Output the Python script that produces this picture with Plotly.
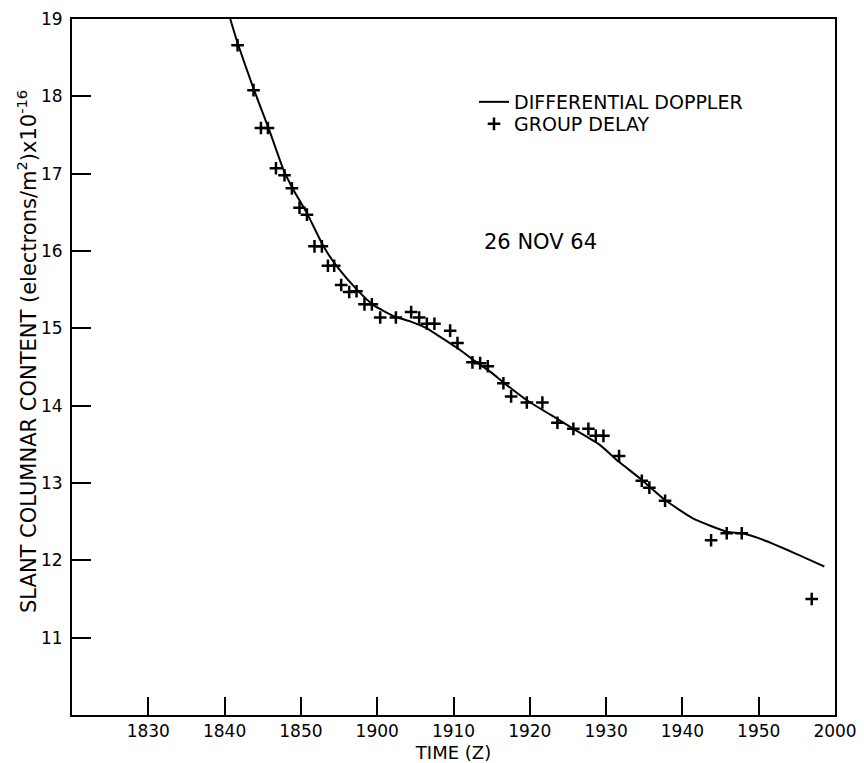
import plotly.graph_objects as go

# Time axis in minutes after 18:00 Z
tick_minutes = [30, 40, 50, 60, 70, 80, 90, 100, 110, 120]
tick_labels = ["1830", "1840", "1850", "1900", "1910", "1920", "1930", "1940", "1950", "2000"]
y_ticks = [11, 12, 13, 14, 15, 16, 17, 18, 19]

# Differential Doppler (continuous curve)
doppler_t = [40.74, 41.70, 43.79, 45.76, 47.72, 49.03, 50.79, 52.96, 54.72, 57.34,
             59.51, 62.36, 64.32, 66.51, 68.25, 70.87, 72.61, 74.80, 76.54, 79.61,
             83.75, 85.71, 89.21, 91.61, 94.68, 97.73, 101.44, 105.81, 107.78, 110.17,
             114.54, 118.60]
doppler_v = [19.00, 18.69, 18.10, 17.59, 17.05, 16.79, 16.49, 16.06, 15.80, 15.50,
             15.30, 15.15, 15.09, 15.00, 14.89, 14.72, 14.59, 14.44, 14.30, 14.07,
             13.82, 13.70, 13.49, 13.28, 13.04, 12.78, 12.54, 12.37, 12.35, 12.28,
             12.10, 11.92]

# Group delay measurements
group_t = [41.70, 43.79, 44.76, 45.68, 46.73, 47.85, 48.82, 49.82, 50.79, 51.78,
           52.75, 53.54, 54.36, 55.28, 56.33, 57.29, 58.33, 59.30, 60.39, 62.45,
           64.45, 65.50, 66.51, 67.50, 69.56, 70.52, 72.48, 73.49, 74.50, 76.54,
           77.55, 79.61, 81.65, 83.62, 85.71, 87.68, 88.65, 89.65, 91.70, 94.68,
           95.67, 97.73, 103.76, 105.81, 107.78, 116.95]
group_v = [18.66, 18.08, 17.59, 17.59, 17.07, 16.98, 16.81, 16.56, 16.47, 16.06,
           16.06, 15.81, 15.81, 15.56, 15.47, 15.48, 15.31, 15.31, 15.14, 15.14,
           15.21, 15.14, 15.06, 15.06, 14.97, 14.81, 14.56, 14.55, 14.51, 14.29,
           14.12, 14.04, 14.04, 13.78, 13.70, 13.70, 13.61, 13.61, 13.35, 13.03,
           12.94, 12.77, 12.26, 12.35, 12.35, 11.50]

FONT = "DejaVu Sans"
PLOT_L, PLOT_R, PLOT_T, PLOT_B = 72, 835, 19, 715


def px_x(p):
    return (p - PLOT_L) / (PLOT_R - PLOT_L)


def px_y(p):
    return (PLOT_B - p) / (PLOT_B - PLOT_T)


fig = go.Figure()
fig.add_trace(go.Scatter(
    x=doppler_t, y=doppler_v, mode="lines", name="DIFFERENTIAL DOPPLER",
    line=dict(color="black", width=2, shape="spline", smoothing=0.5),
    legend="legend",
))
fig.add_trace(go.Scatter(
    x=group_t, y=group_v, mode="markers", name="GROUP DELAY",
    marker=dict(symbol="cross-thin", size=9, color="black",
                line=dict(color="black", width=2.5)),
    legend="legend2",
))

legend_common = dict(xanchor="left", yanchor="middle",
                     font=dict(family=FONT, size=19, color="black"),
                     bgcolor="rgba(0,0,0,0)", itemwidth=30, borderwidth=0)

fig.update_layout(
    width=864, height=763,
    margin=dict(l=72, r=29, t=19, b=48, autoexpand=False),
    paper_bgcolor="white", plot_bgcolor="white",
    font=dict(family=FONT, color="black", size=17),
    showlegend=True,
    legend=dict(x=px_x(474), y=px_y(102), **legend_common),
    legend2=dict(x=px_x(474), y=px_y(124), **legend_common),
    xaxis=dict(
        range=[20, 120], tickmode="array", tickvals=tick_minutes, ticktext=tick_labels,
        ticks="inside", ticklen=18, tickwidth=2, tickcolor="black",
        showline=True, linecolor="black", linewidth=2, mirror=True,
        showgrid=False, zeroline=False, ticklabelstandoff=0,
        tickfont=dict(family=FONT, size=17, color="black"),
        title=dict(text="TIME (Z)", font=dict(family=FONT, size=18, color="black"), standoff=6),
    ),
    yaxis=dict(
        range=[10, 19], tickmode="array", tickvals=y_ticks,
        ticks="inside", ticklen=19, tickwidth=2, tickcolor="black",
        showline=True, linecolor="black", linewidth=2, mirror=True,
        showgrid=False, zeroline=False, ticklabelstandoff=4,
        tickfont=dict(family=FONT, size=17, color="black"),
    ),
    annotations=[
        dict(text="SLANT COLUMNAR CONTENT (electrons/m<sup>2</sup>)x10<sup>-16</sup>",
             x=px_x(27), y=px_y(352), xref="paper", yref="paper", textangle=-90,
             showarrow=False, xanchor="center", yanchor="middle",
             font=dict(family=FONT, size=21, color="black")),
        dict(text="26 NOV 64", x=px_x(482), y=px_y(242), xref="paper", yref="paper",
             showarrow=False, xanchor="left", yanchor="middle",
             font=dict(family=FONT, size=21, color="black")),
    ],
)

fig.write_html("out.html")
